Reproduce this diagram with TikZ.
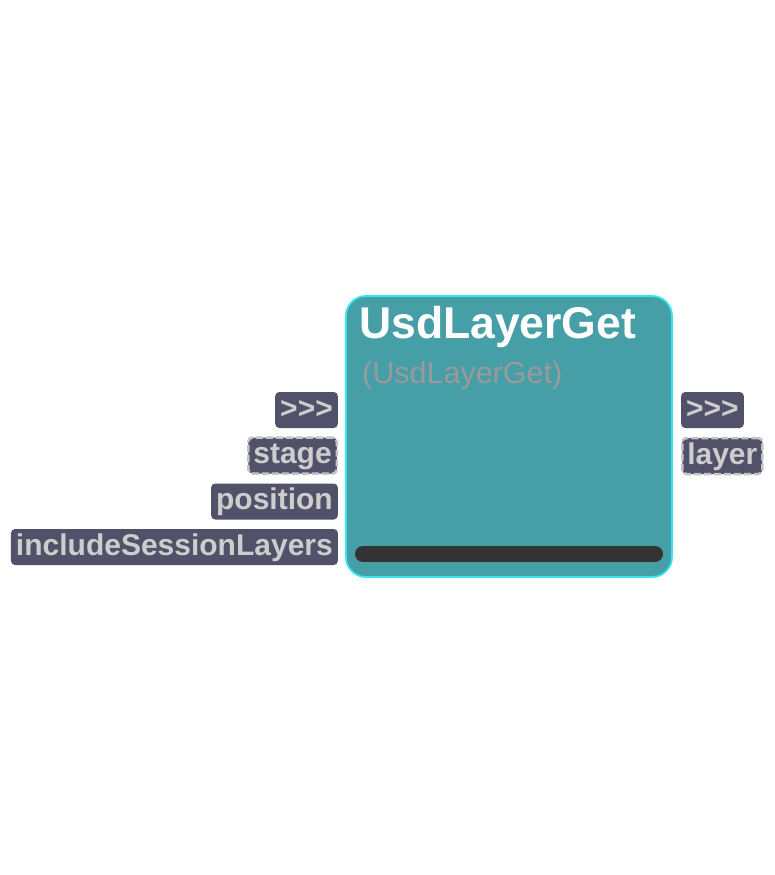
\documentclass[tikz,border=0pt]{standalone}
\usepackage{fontspec}
\setmainfont{Liberation Sans}
\definecolor{teal1}{HTML}{469EA6}
\definecolor{cyan1}{HTML}{33E6EE}
\definecolor{portfill}{HTML}{51516A}
\definecolor{porttext}{HTML}{CDCDCD}
\definecolor{subgray}{HTML}{9A9A9A}
\definecolor{barc}{HTML}{333333}
\definecolor{dashc}{HTML}{C4C4C4}
\begin{document}
\begin{tikzpicture}[x=1pt,y=-1pt,
  port/.style={rounded corners=4pt, fill=portfill, text=porttext,
    font=\bfseries\fontsize{30}{32}\selectfont, minimum height=36pt,
    inner xsep=5pt, inner ysep=0pt, text height=22pt, text depth=6pt},
  dport/.style={port, draw=dashc, line width=2.5pt, dash pattern=on 7pt off 3pt},
  mainbox/.style={draw=cyan1, fill=teal1, line width=1.8pt, rounded corners=20pt,
    minimum width=326pt, minimum height=281pt, inner sep=0pt}]
\useasboundingbox (0,0) rectangle (775,875);
\node[mainbox] (main) at (509,436.5) {};
\node[anchor=base west, text=white, font=\bfseries\fontsize{44.5}{46}\selectfont, inner sep=0pt] (title) at (359,338) {UsdLayerGet};
\node[anchor=base west, text=subgray, font=\fontsize{30.5}{32}\selectfont, inner sep=0pt] (sub) at (362,383) {(UsdLayerGet)};
\draw[barc, line width=16pt, line cap=round] (363,554) -- (655,554);
\node[port, anchor=east] (pin0) at (338,410) {>{}>{}>};
\node[dport, anchor=east] (pin1) at (338,455.5) {stage};
\node[port, anchor=east] (pin2) at (338,501.5) {position};
\node[port, anchor=east] (pin3) at (338,547) {includeSessionLayers};
\node[port, anchor=west] (pout0) at (681,410) {>{}>{}>};
\node[dport, anchor=west] (pout1) at (681,456) {layer};
\end{tikzpicture}
\end{document}
